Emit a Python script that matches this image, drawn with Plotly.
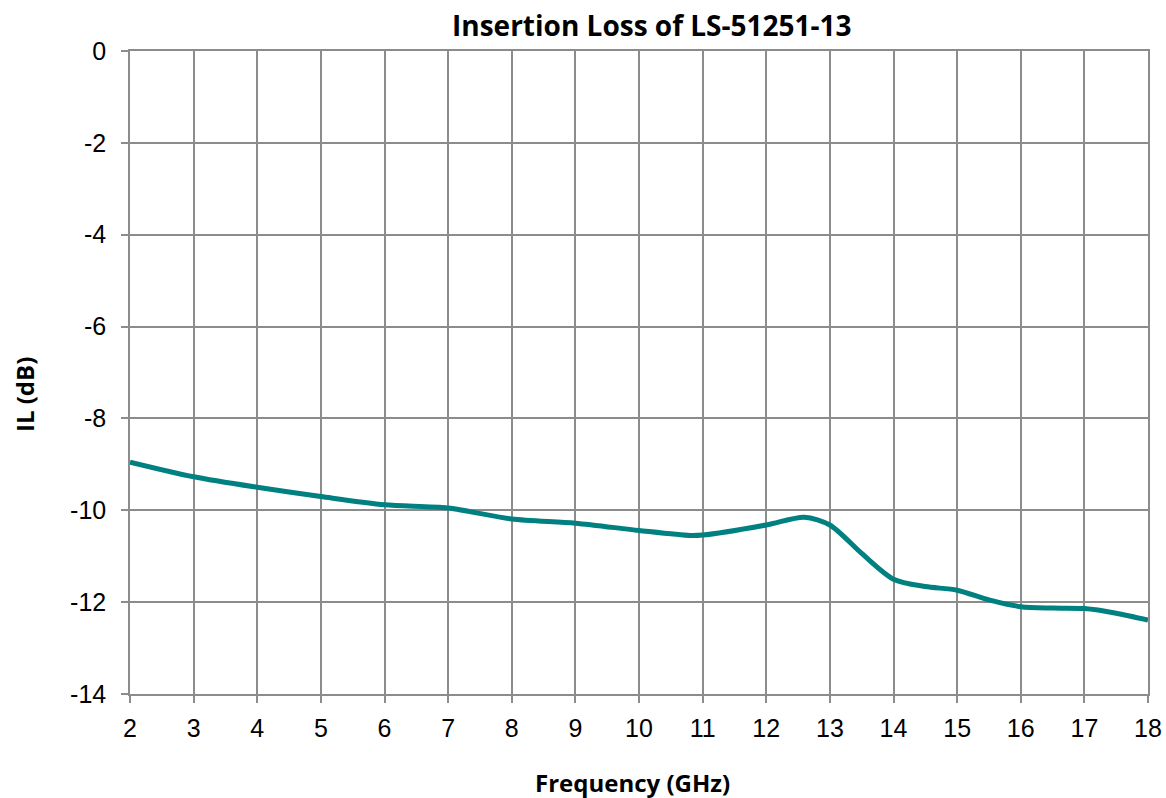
import plotly.graph_objects as go

freq_ghz = [2, 3, 4, 5, 6, 7, 8, 9, 10, 10.8, 11, 12, 12.6, 13, 13.5, 14, 14.5, 15, 15.5, 16, 16.5, 17, 17.5, 18]
il_db = [-8.95, -9.27, -9.50, -9.70, -9.88, -9.95, -10.19, -10.28, -10.44, -10.55, -10.54, -10.32, -10.15, -10.32, -10.94, -11.50, -11.66, -11.74, -11.95, -12.10, -12.13, -12.14, -12.24, -12.39]

x_ticks = list(range(2, 19))
y_ticks = list(range(-14, 1, 2))

grid = "#8c8c8c"
title_font = "Open Sans, Lato, sans-serif"

W, H = 1166, 798
L, R, T, B = 130, 18, 51, 104
PW, PH = W - L - R, H - T - B

fig = go.Figure()
fig.add_trace(go.Scatter(x=freq_ghz, y=il_db, mode="lines",
                         line=dict(color="#008080", width=5, shape="spline", smoothing=0.8),
                         showlegend=False, hoverinfo="x+y"))

fig.update_layout(
    width=W, height=H,
    margin=dict(l=L, r=R, t=T, b=B, autoexpand=False),
    paper_bgcolor="white", plot_bgcolor="white",
    font=dict(family="Liberation Sans, Arial, sans-serif", size=25, color="black"),
    annotations=[
        dict(text="<b>Insertion Loss of LS-51251-13</b>", xref="paper", yref="paper",
             x=(652 - L) / PW, y=1 + (T - 25) / PH,
             xanchor="center", yanchor="middle", showarrow=False,
             font=dict(family=title_font, size=28, color="black")),
        dict(text="<b>Frequency (GHz)</b>", xref="paper", yref="paper",
             x=(632 - L) / PW, y=-(782 - (H - B)) / PH,
             xanchor="center", yanchor="middle", showarrow=False,
             font=dict(family=title_font, size=24, color="black")),
        dict(text="<b>IL (dB)</b>", xref="paper", yref="paper", textangle=-90,
             x=-(L - 24) / PW, y=1 - (395 - T) / PH,
             xanchor="center", yanchor="middle", showarrow=False,
             font=dict(family=title_font, size=24, color="black")),
    ],
)
fig.update_xaxes(range=[2, 18], tickvals=x_ticks, ticktext=[str(v) for v in x_ticks],
                 showgrid=True, gridcolor=grid, gridwidth=1.5,
                 showline=True, linecolor=grid, linewidth=1.5, mirror=True,
                 ticks="outside", ticklen=7, tickcolor=grid, tickwidth=1.5,
                 ticklabelstandoff=4, automargin=False,
                 zeroline=False)
fig.update_yaxes(range=[-14, 0], tickvals=y_ticks, ticktext=[str(v) for v in y_ticks],
                 showgrid=True, gridcolor=grid, gridwidth=1.5,
                 showline=True, linecolor=grid, linewidth=1.5, mirror=True,
                 ticks="outside", ticklen=7, tickcolor=grid, tickwidth=1.5,
                 ticklabelstandoff=10, automargin=False,
                 zeroline=False)

fig.write_html("out.html", config={"displayModeBar": False},
               post_script="document.body.style.margin='0';document.body.style.overflow='hidden';")
